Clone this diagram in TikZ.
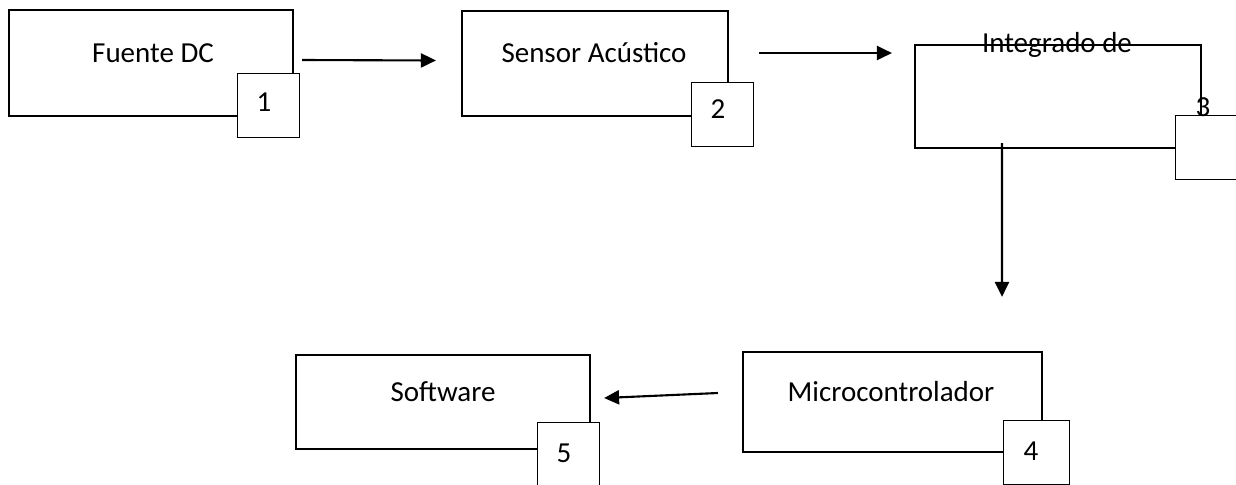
\documentclass[tikz,border=0pt]{standalone}
\usepackage{fontspec}
\setmainfont{Carlito}
\usetikzlibrary{arrows.meta}
\tikzset{
  bloque/.style={draw, line width=1.3pt, fill=white, inner sep=0pt},
  numero/.style={draw, line width=0.5pt, fill=white, minimum width=1.24cm, minimum height=1.28cm, inner sep=0pt},
  texto/.style={font=\fontsize{16.5}{19}\selectfont, inner sep=0pt},
  flecha/.style={line width=1.2pt, -{Triangle[length=8.5pt,width=8pt]}}
}

\begin{document}
\begin{tikzpicture}[x=0.02cm, y=-0.02cm]
  \useasboundingbox (0,0) rectangle (1236,484);
  \clip (0,0) rectangle (1236,484);
  % bloques
  \node[bloque, minimum width=5.68cm, minimum height=2.12cm] (fuente) at (151,63) {};
  \node[bloque, minimum width=5.32cm, minimum height=2.1cm] (sensor) at (595,63.5) {};
  \node[bloque, minimum width=5.72cm, minimum height=2.06cm] (integrado) at (1058,96.5) {};
  \node[bloque, minimum width=5.98cm, minimum height=2cm] (micro) at (892.5,402) {};
  \node[bloque, minimum width=5.88cm, minimum height=1.88cm] (software) at (443,402) {};
  % cuadros numerados
  \node[numero] (c1) at (268,105) {};
  \node[numero] (c2) at (722.5,114) {};
  \node[numero] (c3) at (1206,147) {};
  \node[numero, minimum width=1.32cm] (c4) at (1036,452) {};
  \node[numero] (c5) at (568,454) {};
  % textos
  \node[texto] (t1) at (153,53) {Fuente DC};
  \node[texto] (t2) at (594,53) {Sensor Acústico};
  \node[texto] (t3) at (1057,45) {Integrado de};
  \node[texto] (t4) at (891,392) {Microcontrolador};
  \node[texto] (t5) at (443,392) {Software};
  \node[texto] (n1) at (264,102) {1};
  \node[texto] (n2) at (718,109) {2};
  \node[texto] (n3) at (1203,107) {3};
  \node[texto] (n4) at (1031,451) {4};
  \node[texto] (n5) at (564,453) {5};
  % flechas
  \draw[flecha] ([shift={(8,-3)}]fuente.east) -- ([shift={(-25,-3)}]sensor.west);
  \draw[flecha] ([shift={(30,-10.5)}]sensor.east) -- ([shift={(-22,-43.5)}]integrado.west);
  \draw[flecha] ([shift={(-56,-6)}]integrado.south) -- ([shift={(109.5,-54)}]micro.north);
  \draw[flecha] ([shift={(-24,-9)}]micro.west) -- ([shift={(13,-4)}]software.east);
\end{tikzpicture}
\end{document}
